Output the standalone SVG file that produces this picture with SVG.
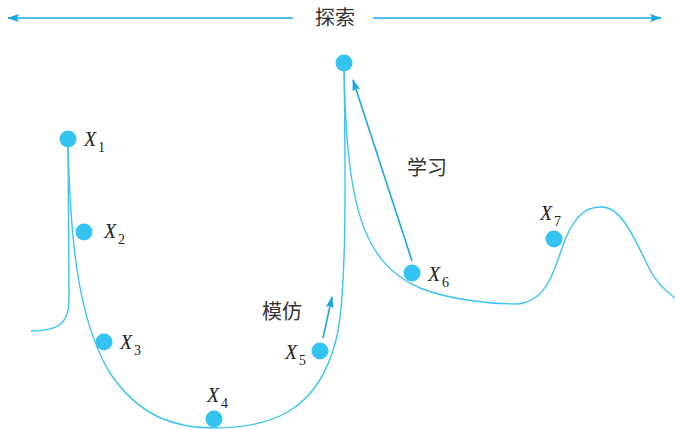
<svg xmlns="http://www.w3.org/2000/svg" width="675" height="429" viewBox="0 0 675 429">
<style>
.curve{fill:none;stroke:#3cc4f0;stroke-width:1.4}
.arr{fill:none;stroke:#1ea6e3;stroke-width:1.6}
.pt{fill:#35c4f2}
.cn{font-family:"Noto Sans CJK SC","Noto Sans",sans-serif;font-size:20px;fill:#333}
.xl{font-family:"Liberation Serif",serif;font-style:italic;font-size:20px;fill:#222}
.sub{font-family:"Liberation Serif",serif;font-size:14px;fill:#222}
</style>
<defs>
<marker id="ah" viewBox="0 0 12 8" refX="11" refY="4" markerWidth="12" markerHeight="8" markerUnits="userSpaceOnUse" orient="auto-start-reverse">
<path d="M0,0 L12,4 L0,8 L2,4 Z" fill="#1ea6e3"/>
</marker>
</defs>
<g id="connectors">
<path class="curve" d="M31,331 C60,331 69,322 69,300 L68,140"/>
<path class="curve" d="M68,140 C70,250 80,320 108,370 C140,420 180,428 214,428 C270,428 318,412 336,340 C348,295 345,150 344,63"/>
<path class="curve" d="M344,63 C346,200 360,262 420,288 C450,300 490,304 518,304 C550,300 555,265 565,240 C578,208 592,207 602,207 C622,207 635,240 650,270 C658,285 668,293 675,298"/>
<line class="arr" x1="293" y1="18" x2="8" y2="18" marker-end="url(#ah)"/>
<line class="arr" x1="373" y1="18" x2="661" y2="18" marker-end="url(#ah)"/>
<line class="arr" x1="412" y1="261" x2="353" y2="80" marker-end="url(#ah)"/>
<line class="arr" x1="323" y1="338" x2="332" y2="297" marker-end="url(#ah)"/>
</g>
<g id="explore"><text class="cn" x="335" y="25" text-anchor="middle">探索</text></g>
<g id="learn"><text class="cn" x="427" y="175" text-anchor="middle">学习</text></g>
<g id="imitate"><text class="cn" x="282" y="319" text-anchor="middle">模仿</text></g>
<g id="top"><circle class="pt" cx="344" cy="63" r="8.5"/></g>
<g id="X1"><circle class="pt" cx="68" cy="139" r="8.5"/><text class="xl" x="84" y="146">X</text><text class="sub" x="98" y="152">1</text></g>
<g id="X2"><circle class="pt" cx="84" cy="232" r="8.5"/><text class="xl" x="104" y="238">X</text><text class="sub" x="118" y="244">2</text></g>
<g id="X3"><circle class="pt" cx="104" cy="342" r="8.5"/><text class="xl" x="120" y="349">X</text><text class="sub" x="134" y="355">3</text></g>
<g id="X4"><circle class="pt" cx="214" cy="419" r="8.5"/><text class="xl" x="207" y="402">X</text><text class="sub" x="221" y="408">4</text></g>
<g id="X5"><circle class="pt" cx="320" cy="351" r="8.5"/><text class="xl" x="285" y="359">X</text><text class="sub" x="299" y="365">5</text></g>
<g id="X6"><circle class="pt" cx="412" cy="273" r="8.5"/><text class="xl" x="428" y="281">X</text><text class="sub" x="442" y="287">6</text></g>
<g id="X7"><circle class="pt" cx="554" cy="239" r="8.5"/><text class="xl" x="540" y="220">X</text><text class="sub" x="554" y="226">7</text></g>
</svg>
